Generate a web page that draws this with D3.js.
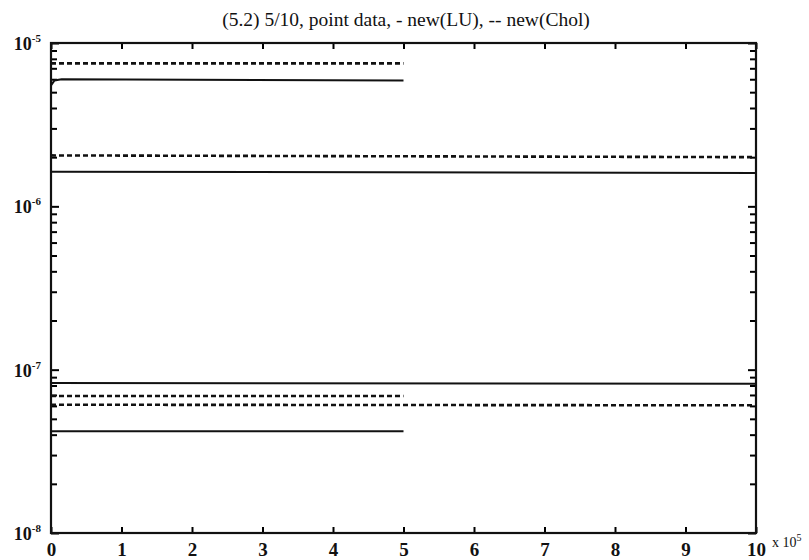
<!DOCTYPE html>
<html>
<head>
<meta charset="utf-8">
<script src="https://cdn.jsdelivr.net/npm/d3@7"></script>
<style>
  body { margin: 0; background: #fff; }
  svg { display: block; }
  text { font-family: "Liberation Serif", "DejaVu Serif", serif; fill: #111; }
</style>
</head>
<body>
<div id="chart"></div>
<script>
// x values are in units of 10^5
var xTicks = [0, 1, 2, 3, 4, 5, 6, 7, 8, 9, 10];
var yDecades = [-5, -6, -7, -8];

// solid = new(LU), dashed = new(Chol)
var luTopX = [0, 0.05, 0.15, 5];
var luTopY = [5.5e-6, 5.9e-6, 6.0e-6, 5.9e-6];
var cholTopX = [0, 5];
var cholTopY = [7.5e-6, 7.5e-6];
var cholMidX = [0, 10];
var cholMidY = [2.05e-6, 2.0e-6];
var luMidX = [0, 10];
var luMidY = [1.63e-6, 1.6e-6];
var luLowX = [0, 10];
var luLowY = [8.3e-8, 8.2e-8];
var cholLowX = [0, 5];
var cholLowY = [6.9e-8, 6.9e-8];
var cholLow2X = [0, 10];
var cholLow2Y = [6.1e-8, 6.05e-8];
var luBotX = [0, 5];
var luBotY = [4.2e-8, 4.2e-8];

var series = [
  {x: luTopX, y: luTopY, dash: null},
  {x: cholTopX, y: cholTopY, dash: "5,3"},
  {x: cholMidX, y: cholMidY, dash: "5,3"},
  {x: luMidX, y: luMidY, dash: null},
  {x: luLowX, y: luLowY, dash: null},
  {x: cholLowX, y: cholLowY, dash: "5,3"},
  {x: cholLow2X, y: cholLow2Y, dash: "5,3"},
  {x: luBotX, y: luBotY, dash: null}
];

var W = 809, H = 560;
var m = {left: 51, right: 53, top: 43, bottom: 27};
var w = W - m.left - m.right, h = H - m.top - m.bottom;

var svg = d3.select("#chart").append("svg")
  .attr("width", W).attr("height", H);

var g = svg.append("g").attr("transform", "translate(" + m.left + "," + m.top + ")");

var x = d3.scaleLinear().domain([0, 10]).range([0, w]);
var y = d3.scaleLog().domain([1e-8, 1e-5]).range([h, 0]);

// all log ticks (majors + minors)
var yTickVals = [];
d3.range(-8, -5).forEach(function(e) {
  for (var k = 1; k < 10; k++) yTickVals.push(k * Math.pow(10, e));
});
yTickVals.push(1e-5);
function isMajor(v) {
  var l = Math.log10(v);
  return Math.abs(l - Math.round(l)) < 1e-9;
}

// left axis, ticks pointing in
var ly = g.append("g").call(d3.axisLeft(y).tickValues(yTickVals).tickFormat("").tickSizeOuter(0));
ly.selectAll(".tick line").attr("x2", function(d) { return isMajor(d) ? 8 : 6; })
  .attr("stroke-width", 2);
ly.select(".domain").remove();

var ry = g.append("g").attr("transform", "translate(" + w + ",0)")
  .call(d3.axisRight(y).tickValues(yTickVals).tickFormat("").tickSizeOuter(0));
ry.selectAll(".tick line").attr("x2", function(d) { return isMajor(d) ? -8 : -6; })
  .attr("stroke-width", 2);
ry.select(".domain").remove();

// bottom / top axes, ticks pointing in
var bx = g.append("g").attr("transform", "translate(0," + h + ")")
  .call(d3.axisBottom(x).tickValues(xTicks).tickSizeInner(-6).tickSizeOuter(0).tickPadding(10));
bx.select(".domain").remove();
bx.selectAll(".tick line").attr("stroke-width", 2);
bx.selectAll(".tick text")
  .style("font-family", '"Liberation Serif", serif')
  .style("font-size", "19px").style("font-weight", "bold").attr("fill", "#111");

var tx = g.append("g")
  .call(d3.axisTop(x).tickValues(xTicks).tickSizeInner(-6).tickSizeOuter(0).tickFormat(""));
tx.select(".domain").remove();
tx.selectAll(".tick line").attr("stroke-width", 2);

// frame
g.append("rect").attr("width", w).attr("height", h)
  .attr("fill", "none").attr("stroke", "#111").attr("stroke-width", 2.2);

// y labels 10^e
yDecades.forEach(function(e) {
  var t = g.append("text")
    .attr("x", -10).attr("y", y(Math.pow(10, e)) + 7)
    .attr("text-anchor", "end")
    .style("font-size", "18px").style("font-weight", "bold");
  t.append("tspan").text("10");
  t.append("tspan").attr("dy", -8).style("font-size", "11px").text(String(e));
});

// x multiplier
var xm = svg.append("text")
  .attr("x", m.left + w + 16).attr("y", m.top + h + 14)
  .style("font-size", "14px");
xm.append("tspan").text("x 10");
xm.append("tspan").attr("dy", -6).style("font-size", "10px").text("5");

// title
svg.append("text")
  .attr("x", 406).attr("y", 26)
  .attr("text-anchor", "middle")
  .style("font-size", "19.5px")
  .text("(5.2) 5/10, point data, - new(LU), -- new(Chol)");

// data lines
var line = d3.line()
  .x(function(d) { return x(d[0]); })
  .y(function(d) { return y(d[1]); });

g.selectAll("path.series").data(series).enter().append("path")
  .attr("class", "series")
  .attr("d", function(s) { return line(s.x.map(function(v, i) { return [v, s.y[i]]; })); })
  .attr("fill", "none")
  .attr("stroke", "#111")
  .attr("stroke-width", function(s) { return s.dash ? 2.6 : 2; })
  .attr("stroke-dasharray", function(s) { return s.dash; });
</script>
</body>
</html>
